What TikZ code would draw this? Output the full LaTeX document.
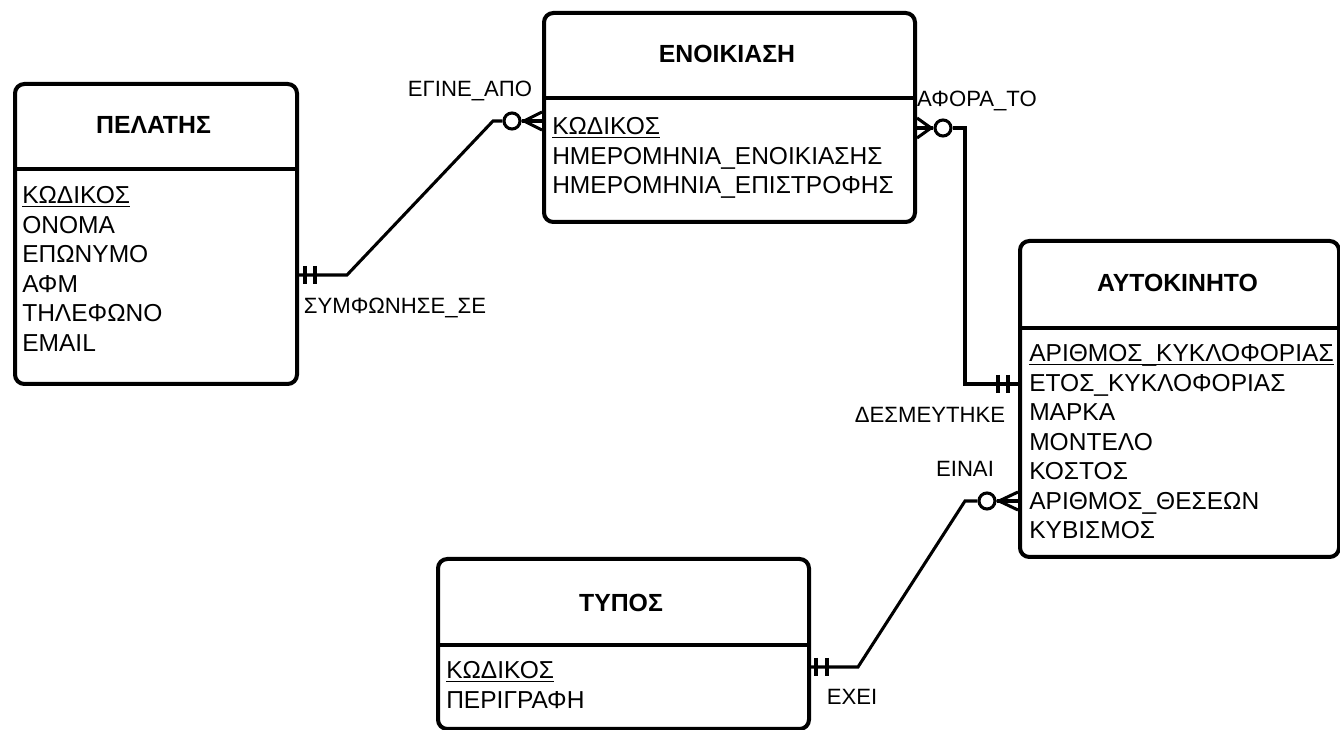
\documentclass[tikz,border=0pt]{standalone}
\usepackage{fontspec}
\setmainfont{Liberation Sans}
% key underline sits just under the baseline
\newcommand{\keyattr}[1]{\underline{\smash{#1}}}
\begin{document}
\begin{tikzpicture}[x=0.75pt,y=-0.75pt,
  entity/.style={draw, line width=3pt, rounded corners=7pt, inner sep=0pt, anchor=north west},
  divider/.style={line width=2.6pt},
  rel/.style={line width=2.3pt},
  ocirc/.style={circle, draw, fill=white, line width=2.3pt, inner sep=0pt, minimum size=12pt},
  attr/.style={anchor=base west, inner sep=0pt, font=\fontsize{18.4}{22}\selectfont},
  ttl/.style={anchor=base, inner sep=0pt, font=\fontsize{18.6}{22}\selectfont\bfseries},
  lbl/.style={anchor=base, inner sep=0pt, font=\fontsize{16.6}{19}\selectfont}]
\useasboundingbox (0,0) rectangle (1340,730);

% ---------- entities ----------
\node[entity, minimum width=282*0.75pt, minimum height=300*0.75pt] (pel) at (13,82) {};
\draw[divider] (pel.west |- 0,169) -- (pel.east |- 0,169);
\node[ttl] (pel-t) at (153.5,134) {ΠΕΛΑΤΗΣ};
\node[attr] (pel-1) at (22,204) {\keyattr{ΚΩΔΙΚΟΣ}};
\node[attr] (pel-2) at (22,233.5) {ΟΝΟΜΑ};
\node[attr] (pel-3) at (22,263) {ΕΠΩΝΥΜΟ};
\node[attr] (pel-4) at (22,292.5) {ΑΦΜ};
\node[attr] (pel-5) at (22,322) {ΤΗΛΕΦΩΝΟ};
\node[attr] (pel-6) at (22,351.5) {EMAIL};

\node[entity, minimum width=371*0.75pt, minimum height=209*0.75pt] (enk) at (542,11) {};
\draw[divider] (enk.west |- 0,98) -- (enk.east |- 0,98);
\node[ttl] (enk-t) at (727,63) {ΕΝΟΙΚΙΑΣΗ};
\node[attr] (enk-1) at (552,135) {\keyattr{ΚΩΔΙΚΟΣ}};
\node[attr] (enk-2) at (552,164.5) {ΗΜΕΡΟΜΗΝΙΑ\_ΕΝΟΙΚΙΑΣΗΣ};
\node[attr] (enk-3) at (552,194) {ΗΜΕΡΟΜΗΝΙΑ\_ΕΠΙΣΤΡΟΦΗΣ};

\node[entity, minimum width=319*0.75pt, minimum height=316*0.75pt] (aut) at (1018,239) {};
\draw[divider] (aut.west |- 0,328) -- (aut.east |- 0,328);
\node[ttl] (aut-t) at (1177.5,292) {ΑΥΤΟΚΙΝΗΤΟ};
\node[attr] (aut-1) at (1029,362) {\keyattr{ΑΡΙΘΜΟΣ\_ΚΥΚΛΟΦΟΡΙΑΣ}};
\node[attr] (aut-2) at (1029,391.5) {ΕΤΟΣ\_ΚΥΚΛΟΦΟΡΙΑΣ};
\node[attr] (aut-3) at (1029,421) {ΜΑΡΚΑ};
\node[attr] (aut-4) at (1029,450.5) {ΜΟΝΤΕΛΟ};
\node[attr] (aut-5) at (1029,480) {ΚΟΣΤΟΣ};
\node[attr] (aut-6) at (1029,509.5) {ΑΡΙΘΜΟΣ\_ΘΕΣΕΩΝ};
\node[attr] (aut-7) at (1029,539) {ΚΥΒΙΣΜΟΣ};

\node[entity, minimum width=371*0.75pt, minimum height=170*0.75pt] (typ) at (436,557) {};
\draw[divider] (typ.west |- 0,645) -- (typ.east |- 0,645);
\node[ttl] (typ-t) at (621,612) {ΤΥΠΟΣ};
\node[attr] (typ-1) at (446,679) {\keyattr{ΚΩΔΙΚΟΣ}};
\node[attr] (typ-2) at (446,708.5) {ΠΕΡΙΓΡΑΦΗ};

% ---------- ΠΕΛΑΤΗΣ -- ΕΝΟΙΚΙΑΣΗ ----------
\coordinate (r1a) at (347,275);
\coordinate (r1b) at (493,121);
\node[ocirc] (r1c) at (512,121) {};
\coordinate (r1f) at (524,121);
\draw[rel] (pel.east |- r1a) -- (r1a) -- (r1b) -- (r1c.west);
\draw[rel] (305,266) -- (305,284) (315,266) -- (315,284);
\draw[rel] (r1c.east) -- (enk.west |- r1f);
\draw[rel] (enk.west |- 0,112) -- (r1f) -- (enk.west |- 0,130);
\node[lbl] (r1l1) at (470,96.5) {ΕΓΙΝΕ\_ΑΠΟ};
\node[lbl] (r1l2) at (395,314) {ΣΥΜΦΩΝΗΣΕ\_ΣΕ};

% ---------- ΕΝΟΙΚΙΑΣΗ -- ΑΥΤΟΚΙΝΗΤΟ ----------
\coordinate (r2a) at (965,128);
\coordinate (r2b) at (965,384);
\node[ocirc] (r2c) at (943,128) {};
\coordinate (r2f) at (931,128);
\draw[rel] (r2c.east) -- (r2a) -- (r2b) -- (aut.west |- r2b);
\draw[rel] (r2c.west) -- (enk.east |- r2f);
\draw[rel] (enk.east |- 0,118) -- (r2f) -- (enk.east |- 0,138);
\draw[rel] (998,375) -- (998,393) (1008,375) -- (1008,393);
\node[lbl] (r2l1) at (977,107) {ΑΦΟΡΑ\_ΤΟ};
\node[lbl] (r2l2) at (930,423) {ΔΕΣΜΕΥΤΗΚΕ};

% ---------- ΤΥΠΟΣ -- ΑΥΤΟΚΙΝΗΤΟ ----------
\coordinate (r3a) at (858,667);
\coordinate (r3b) at (965,501);
\node[ocirc] (r3c) at (987,501) {};
\coordinate (r3f) at (999,501);
\draw[rel] (typ.east |- r3a) -- (r3a) -- (r3b) -- (r3c.west);
\draw[rel] (r3c.east) -- (aut.west |- r3f);
\draw[rel] (aut.west |- 0,492) -- (r3f) -- (aut.west |- 0,510);
\draw[rel] (816,658) -- (816,676) (827,658) -- (827,676);
\node[lbl] (r3l1) at (965,477) {ΕΙΝΑΙ};
\node[lbl] (r3l2) at (852,705) {ΕΧΕΙ};
\end{tikzpicture}
\end{document}
